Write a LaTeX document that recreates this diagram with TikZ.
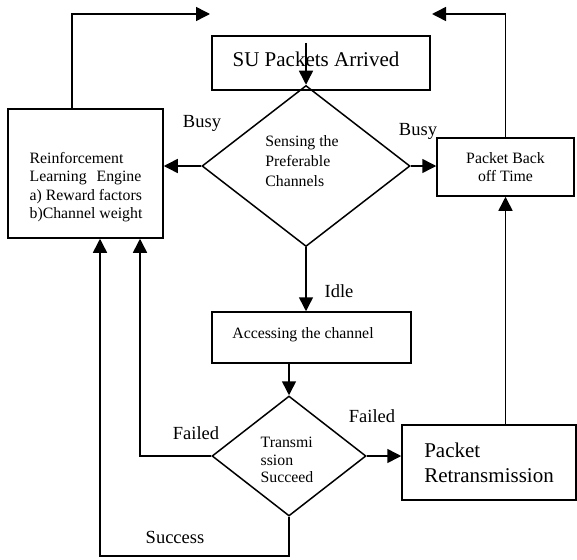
\documentclass[tikz,border=0pt]{standalone}
\usepackage{fontspec}
\setmainfont{Liberation Serif}
\usetikzlibrary{shapes.geometric,arrows.meta,calc}
\begin{document}
\begin{tikzpicture}[x=1pt,y=-1pt,
  line width=1.5pt,
  box/.style={draw,rectangle,inner sep=0pt,line width=1.5pt},
  dia/.style={draw,diamond,inner sep=0pt,line width=1.5pt},
  small/.style={font=\fontsize{15.8}{18.3}\selectfont},
  lab/.style={font=\fontsize{18.5}{20}\selectfont,inner sep=0pt},
  big/.style={font=\fontsize{21}{25}\selectfont},
  arr/.style={-{Triangle[length=14pt,width=14pt]}},
]
\useasboundingbox (0,0) rectangle (577,559);
% boxes
\node[box,minimum width=155pt,minimum height=129pt] (rle) at (85.5,173.5) {};
\node[small,align=left,inner sep=0pt] (rletext) at (86,187) {Reinforcement\\Learning\hspace{10pt}Engine\\a) Reward factors\\b)Channel weight};
\node[box,minimum width=218pt,minimum height=54pt] (su) at (321,63) {};
\node[big,inner sep=0pt] (sutext) at (316,59) {SU Packets Arrived};
\node[dia,minimum width=208pt,minimum height=161pt] (sense) at (306,166) {};
\node[inner sep=0pt,align=left,font=\fontsize{15.8}{20}\selectfont] (sensetext) at (302,161) {Sensing the\\Preferable\\Channels};
\node[box,minimum width=137pt,minimum height=58pt,small,align=center] (back) at (505.5,167) {Packet Back\\off Time};
\node[box,minimum width=199pt,minimum height=51pt] (access) at (311.5,337.5) {};
\node[small,inner sep=0pt] (accesstext) at (303,335) {Accessing the channel};
\node[dia,minimum width=154pt,minimum height=120pt] (trans) at (289,456) {};
\node[inner sep=0pt,align=left,font=\fontsize{15.8}{17.5}\selectfont] (transtext) at (287,460) {Transmi\\ssion\\Succeed};
\node[box,minimum width=174pt,minimum height=75pt,big,align=left] (retx) at (489,462.5) {Packet\\Retransmission};
% labels
\node[lab] (busyL) at (202,123) {Busy};
\node[lab] (busyR) at (418,131) {Busy};
\node[lab] (idle) at (339,291) {Idle};
\node[lab] (failR) at (372,416) {Failed};
\node[lab] (failL) at (196,433) {Failed};
\node[lab] (succ) at (175,537) {Success};
% free ends
\coordinate (suIn) at (306,43);
\coordinate (topL) at (210,14);
\coordinate (topR) at (432,14);
\coordinate (bot) at (100,556);
% connectors
\draw[arr] (suIn) -- (sense.north);
\draw[arr] (sense.west) -- (sense.west -| rle.east);
\draw[arr] (sense.east) -- (sense.east -| back.west);
\draw[arr] (sense.south) -- (sense.south |- access.north);
\draw[arr] (trans.north |- access.south) -- (trans.north);
\draw[arr] (trans.east) -- (trans.east -| retx.west);
\draw[arr] (back.south |- retx.north) -- (back.south);
\draw[arr] (back.north) |- (topR);
\draw[arr] ([xshift=-13.5pt]rle.north) |- (topL);
\draw[arr] (trans.west) -| ([xshift=54.5pt]rle.south);
\draw[arr] (trans.south) |- (bot) -- ([xshift=14.5pt]rle.south);
\end{tikzpicture}
\end{document}
